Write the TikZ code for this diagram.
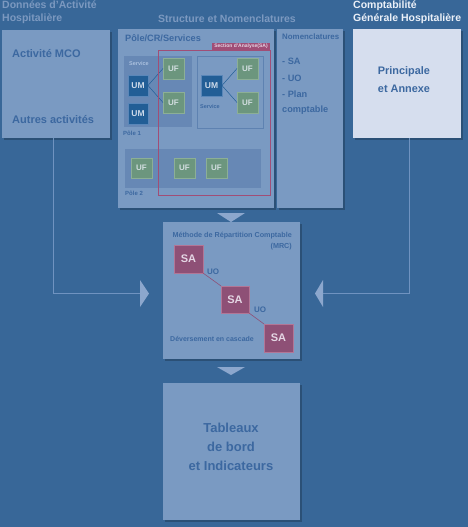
\documentclass[tikz,border=0pt]{standalone}
\usepackage{fontspec}
\setmainfont{Liberation Sans}
\usetikzlibrary{shadows}
\definecolor{bgc}{RGB}{56,103,152}
\definecolor{boxc}{RGB}{122,154,194}
\definecolor{polec}{RGB}{103,136,181}
\definecolor{txtc}{RGB}{60,104,160}
\definecolor{headc}{RGB}{124,153,192}
\definecolor{whc}{RGB}{235,240,248}
\definecolor{compc}{RGB}{214,222,238}
\definecolor{umc}{RGB}{34,94,150}
\definecolor{umb}{RGB}{90,135,185}
\definecolor{ufc}{RGB}{108,150,126}
\definecolor{ufb}{RGB}{140,175,150}
\definecolor{redc}{RGB}{160,78,118}
\definecolor{sac}{RGB}{142,80,118}
\definecolor{sab}{RGB}{178,118,150}
\definecolor{sat}{RGB}{228,214,228}
\definecolor{triC}{RGB}{140,167,205}
\definecolor{connc}{RGB}{112,147,192}
\definecolor{servt}{RGB}{170,192,222}
\begin{document}
\begin{tikzpicture}[x=1pt,y=-1pt,font=\bfseries,
  rbox/.style={inner sep=0pt,anchor=north west,outer sep=0pt},
  mainbox/.style={rbox,fill=boxc,drop shadow={shadow xshift=2pt,shadow yshift=-2pt,fill=black,opacity=0.22}},
  umbox/.style={rbox,fill=umc,draw=umb,line width=0.6pt,minimum width=20pt,minimum height=21pt,text=whc!85!umc,font=\bfseries\fontsize{8.5}{9}\selectfont},
  ufbox/.style={rbox,fill=ufc,draw=ufb,line width=0.6pt,minimum width=21pt,minimum height=21pt,text=whc!80!ufc,font=\bfseries\fontsize{8}{9}\selectfont},
  sabox/.style={rbox,fill=sac,draw=sab,line width=0.6pt,minimum width=29pt,minimum height=28pt,text=sat,font=\bfseries\fontsize{11}{12}\selectfont},
  lbl/.style={inner sep=0pt,anchor=west,text=txtc},
  head/.style={inner sep=0pt,anchor=base west,text=headc,font=\bfseries\fontsize{10.5}{11}\selectfont},
  conn/.style={draw=connc,line width=0.8pt},
  tri/.style={fill=triC}]
\fill[bgc] (0,0) rectangle (468,527);
\useasboundingbox (0,0) rectangle (468,527);

% headers
\node[head] (h1a) at (2,9) {Données d'Activité};
\node[head] (h1b) at (2,22) {Hospitalière};
\node[head,anchor=base] (h2) at (227,22.5) {Structure et Nomenclatures};
\node[head,text=whc] (h3a) at (353,9) {Comptabilité};
\node[head,text=whc] (h3b) at (353,22) {Générale Hospitalière};

% main boxes
\node[mainbox,minimum width=108pt,minimum height=108pt] (act) at (2,30) {};
\node[mainbox,minimum width=156pt,minimum height=179pt] (struct) at (118,29) {};
\node[mainbox,minimum width=66pt,minimum height=179pt] (nom) at (277,29) {};
\node[mainbox,fill=compc,minimum width=108pt,minimum height=109pt] (comp) at (353,29) {};
\node[mainbox,minimum width=137pt,minimum height=137pt] (mrc) at (163,222) {};
\node[mainbox,minimum width=137pt,minimum height=137pt] (tab) at (163,383) {};

% Activite texts
\node[lbl,font=\bfseries\fontsize{11}{12}\selectfont] (t1) at (12,54) {Activité MCO};
\node[lbl,font=\bfseries\fontsize{11}{12}\selectfont] (t2) at (12,120) {Autres activités};

% Structure content
\node[lbl,font=\bfseries\fontsize{9.2}{10}\selectfont] (pcr) at (125,38) {Pôle/CR/Services};
\node[rbox,fill=polec,minimum width=68pt,minimum height=71pt] (pole1) at (124,56) {};
\node[rbox,draw=polec!80!txtc,line width=0.6pt,minimum width=66pt,minimum height=72pt] (serv2) at (197,56) {};
\node[rbox,fill=polec,minimum width=136pt,minimum height=39pt] (pole2) at (125,149) {};
\node[lbl,text=servt,font=\bfseries\fontsize{5.5}{6}\selectfont] (s1) at (129,64) {Service};
\node[lbl,font=\bfseries\fontsize{5.5}{6}\selectfont] (s2) at (200,107) {Service};
\node[lbl,font=\bfseries\fontsize{6}{7}\selectfont] (p1) at (123,133) {Pôle 1};
\node[lbl,font=\bfseries\fontsize{6}{7}\selectfont] (p2) at (125,193) {Pôle 2};

\node[umbox] (um1) at (128,75) {UM};
\node[umbox] (um2) at (128,103) {UM};
\node[umbox,minimum width=21pt] (um3) at (201,75) {UM};
\node[ufbox] (uf1) at (163,58) {UF};
\node[ufbox] (uf2) at (163,92) {UF};
\node[ufbox] (uf3) at (237,58) {UF};
\node[ufbox] (uf4) at (237,92) {UF};
\node[ufbox,minimum height=20pt] (uf5) at (131,158) {UF};
\node[ufbox,minimum height=20pt] (uf6) at (174,158) {UF};
\node[ufbox,minimum height=20pt] (uf7) at (206,158) {UF};
\draw[draw=umc,line width=0.5pt] (um1.east) -- (uf1.west);
\draw[draw=umc,line width=0.5pt] (um1.east) -- (uf2.west);
\draw[draw=umc,line width=0.5pt] (um3.east) -- (uf3.west);
\draw[draw=umc,line width=0.5pt] (um3.east) -- (uf4.west);

\node[rbox,draw=redc,line width=0.8pt,minimum width=112pt,minimum height=145pt] (sareg) at (158,50) {};
\node[rbox,fill=redc,minimum width=58pt,minimum height=7pt,text=sat,font=\bfseries\fontsize{5}{5}\selectfont] (satab) at (212,43) {Section d'Analyse(SA)};

% Nomenclatures
\node[lbl,font=\bfseries\fontsize{7.9}{9}\selectfont] (n0) at (282,37) {Nomenclatures};
\node[lbl,font=\bfseries\fontsize{9.2}{10}\selectfont] (n1) at (282,61) {- SA};
\node[lbl,font=\bfseries\fontsize{9.2}{10}\selectfont] (n2) at (282,78) {- UO};
\node[lbl,font=\bfseries\fontsize{9.2}{10}\selectfont] (n3) at (282,94) {- Plan};
\node[lbl,font=\bfseries\fontsize{9.2}{10}\selectfont] (n4) at (282,110) {comptable};

% Comptabilite
\node[lbl,anchor=center,align=center,font=\bfseries\fontsize{10.9}{18}\selectfont] (pa) at (404,80) {Principale\\et Annexe};

% MRC
\node[lbl,anchor=east,align=right,font=\bfseries\fontsize{7.2}{11}\selectfont] (mt) at (292,241.5) {Méthode de Répartition Comptable\\(MRC)};
\node[sabox] (sa1) at (174,245) {SA};
\node[sabox,minimum width=28pt,minimum height=27pt] (sa2) at (221,286) {SA};
\node[sabox] (sa3) at (264,324) {SA};
\draw[draw=sac,line width=0.6pt] (sa1.south east) -- (sa2.north west);
\draw[draw=sac,line width=0.6pt] (sa2.south east) -- (sa3.north west);
\node[lbl,anchor=center,font=\bfseries\fontsize{8}{9}\selectfont] (uo1) at (213,272) {UO};
\node[lbl,anchor=center,font=\bfseries\fontsize{8}{9}\selectfont] (uo2) at (260,310) {UO};
\node[lbl,font=\bfseries\fontsize{7}{8}\selectfont] (dev) at (170,339) {Déversement en cascade};

% Tableaux
\node[lbl,anchor=center,align=center,font=\bfseries\fontsize{13}{19}\selectfont] (tb) at (231,447) {Tableaux\\de bord\\et Indicateurs};

% triangles
\fill[tri] (217,213) -- (245,213) -- (231,222) -- cycle;
\fill[tri] (217,367) -- (245,367) -- (231,375) -- cycle;
\fill[tri] (140,280) -- (140,307) -- (149,293.5) -- cycle;
\fill[tri] (323,280) -- (323,307) -- (315,293.5) -- cycle;

% connectors
\coordinate (ltri) at (140,293.5);
\coordinate (rtri) at (323,293.5);
\draw[conn] ([xshift=-3pt]act.south) |- (ltri);
\draw[conn] ([xshift=2pt]comp.south) |- (rtri);
\end{tikzpicture}
\end{document}
